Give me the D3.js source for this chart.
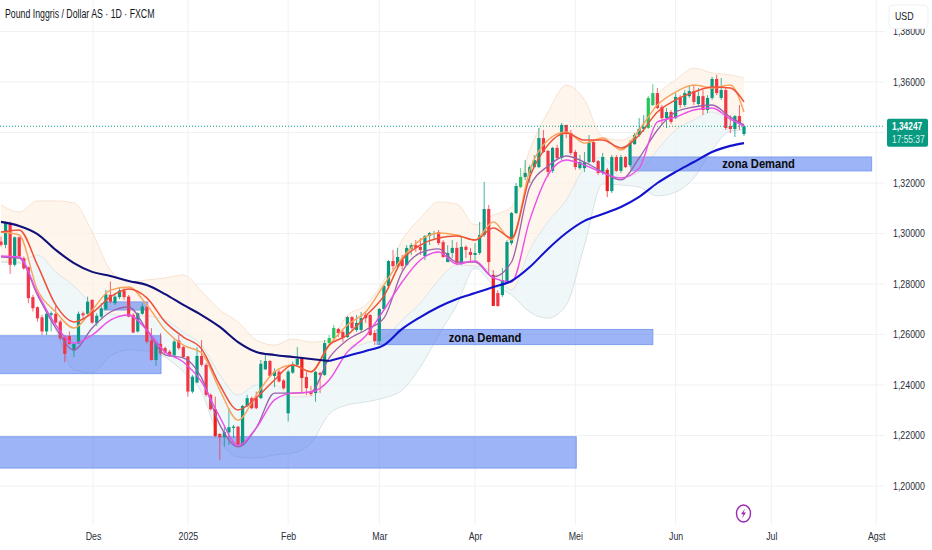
<!DOCTYPE html>
<html><head><meta charset="utf-8">
<script src="https://cdn.jsdelivr.net/npm/d3@7/dist/d3.min.js"></script>
<style>html,body{margin:0;padding:0;background:#fff}svg{display:block}text{font-family:"Liberation Sans",Roboto,sans-serif;fill:#131722}</style>
</head><body><svg id="c" width="932" height="550"></svg>
<script>
const title = "Pound Inggris / Dollar AS · 1D · FXCM";
const opens = [1.2968,1.2955,1.3041,1.2876,1.2985,1.2902,1.2866,1.2748,1.2708,1.2668,
1.2612,1.2678,1.2682,1.2651,1.2592,1.2594,1.2536,1.2565,1.2684,1.2682,
1.2737,1.2645,1.2671,1.2700,1.2757,1.2724,1.2748,1.2774,1.2750,1.2678,
1.2612,1.2682,1.2708,1.2576,1.2499,1.2563,1.2546,1.2532,1.2517,1.2576,
1.2550,1.2513,1.2374,1.2410,1.2515,1.2480,1.2361,1.2304,1.2206,1.2193,
1.2212,1.2230,1.2235,1.2163,1.2317,1.2348,1.2348,1.2348,1.2462,1.2495,
1.2436,1.2453,1.2418,1.2288,1.2449,1.2480,1.2507,1.2432,1.2372,1.2368,
1.2448,1.2440,1.2566,1.2586,1.2622,1.2610,1.2590,1.2669,1.2618,1.2618,
1.2677,1.2677,1.2606,1.2574,1.2701,1.2792,1.2891,1.2871,1.2895,1.2875,
1.2939,1.2954,1.2947,1.2911,1.2990,1.2998,1.3006,1.2966,1.2887,1.2923,
1.2943,1.2883,1.2947,1.2927,1.2915,1.2923,1.2994,1.3097,1.2836,1.2764,
1.2756,1.2808,1.2962,1.3081,1.3184,1.3224,1.3240,1.3263,1.3263,1.3378,
1.3327,1.3248,1.3339,1.3299,1.3430,1.3398,1.3323,1.3259,1.3259,1.3283,
1.3362,1.3287,1.3240,1.3252,1.3168,1.3303,1.3248,1.3303,1.3271,1.3354,
1.3390,1.3414,1.3418,1.3509,1.3556,1.3501,1.3457,1.3481,1.3457,1.3541,
1.3509,1.3544,1.3564,1.3513,1.3544,1.3489,1.3537,1.3612,1.3537,1.3568,
1.3426,1.3414,1.3465,1.3394];
const closes = [1.2955,1.3041,1.2876,1.2985,1.2909,1.2862,1.2744,1.2704,1.2664,1.2612,
1.2682,1.2684,1.2647,1.2585,1.2523,1.2563,1.2563,1.2682,1.2676,1.2730,
1.2647,1.2674,1.2704,1.2759,1.2730,1.2750,1.2774,1.2748,1.2671,1.2608,
1.2684,1.2711,1.2572,1.2499,1.2565,1.2526,1.2528,1.2517,1.2572,1.2546,
1.2510,1.2374,1.2433,1.2515,1.2480,1.2361,1.2304,1.2198,1.2193,1.2213,
1.2233,1.2235,1.2163,1.2317,1.2348,1.2308,1.2308,1.2484,1.2495,1.2436,
1.2453,1.2414,1.2387,1.2453,1.2480,1.2503,1.2428,1.2388,1.2364,1.2452,
1.2440,1.2566,1.2586,1.2626,1.2606,1.2586,1.2669,1.2626,1.2646,1.2665,
1.2665,1.2598,1.2574,1.2701,1.2792,1.2891,1.2871,1.2907,1.2871,1.2943,
1.2954,1.2943,1.2935,1.2990,1.3002,1.3002,1.2962,1.2907,1.2923,1.2943,
1.2883,1.2947,1.2935,1.2915,1.2923,1.2994,1.3097,1.2887,1.2713,1.2713,
1.2816,1.2966,1.3081,1.3188,1.3224,1.3240,1.3263,1.3291,1.3378,1.3323,
1.3244,1.3339,1.3299,1.3430,1.3394,1.3319,1.3263,1.3283,1.3283,1.3362,
1.3283,1.3240,1.3303,1.3168,1.3303,1.3248,1.3303,1.3263,1.3358,1.3390,
1.3414,1.3422,1.3537,1.3556,1.3497,1.3457,1.3481,1.3442,1.3541,1.3509,
1.3556,1.3564,1.3521,1.3544,1.3489,1.3537,1.3612,1.3556,1.3568,1.3418,
1.3414,1.3465,1.3438,1.34247];
const highs = [1.2988,1.3047,1.3047,1.2988,1.2988,1.2909,1.2869,1.2757,1.2711,1.2678,
1.2684,1.2691,1.2713,1.2658,1.2598,1.2612,1.2565,1.2691,1.2691,1.2750,
1.2740,1.2684,1.2724,1.2777,1.2810,1.2763,1.2787,1.2783,1.2757,1.2684,
1.2687,1.2724,1.2713,1.2625,1.2572,1.2605,1.2552,1.2539,1.2579,1.2598,
1.2555,1.2515,1.2440,1.2550,1.2579,1.2486,1.2367,1.2354,1.2209,1.2235,
1.2308,1.2242,1.2238,1.2321,1.2361,1.2354,1.2374,1.2499,1.2519,1.2499,
1.2466,1.2460,1.2423,1.2460,1.2493,1.2550,1.2511,1.2452,1.2396,1.2456,
1.2452,1.2578,1.2598,1.2638,1.2626,1.2618,1.2673,1.2673,1.2677,1.2689,
1.2689,1.2681,1.2618,1.2705,1.2796,1.2895,1.2935,1.2943,1.2915,1.2954,
1.2962,1.2974,1.2982,1.2994,1.3006,1.3010,1.3014,1.2974,1.2954,1.2974,
1.2966,1.2986,1.2954,1.2943,1.2962,1.3046,1.3204,1.3113,1.2855,1.2776,
1.2863,1.2974,1.3085,1.3200,1.3259,1.3291,1.3271,1.3311,1.3418,1.3410,
1.3331,1.3343,1.3351,1.3438,1.3430,1.3410,1.3331,1.3311,1.3323,1.3390,
1.3370,1.3291,1.3319,1.3259,1.3311,1.3311,1.3311,1.3307,1.3370,1.3398,
1.3457,1.3469,1.3545,1.3592,1.3576,1.3509,1.3497,1.3489,1.3556,1.3548,
1.3568,1.3588,1.3588,1.3576,1.3568,1.3548,1.3620,1.3628,1.3616,1.3576,
1.3469,1.3469,1.3509,1.3430];
const lows = [1.2948,1.2942,1.2840,1.2869,1.2902,1.2856,1.2724,1.2691,1.2651,1.2598,
1.2598,1.2612,1.2642,1.2579,1.2490,1.2559,1.2510,1.2563,1.2655,1.2678,
1.2642,1.2634,1.2664,1.2695,1.2724,1.2717,1.2740,1.2737,1.2668,1.2605,
1.2608,1.2678,1.2565,1.2497,1.2476,1.2519,1.2523,1.2513,1.2513,1.2539,
1.2506,1.2354,1.2367,1.2407,1.2473,1.2354,1.2299,1.2193,1.2103,1.2156,
1.2163,1.2189,1.2159,1.2159,1.2312,1.2304,1.2304,1.2344,1.2460,1.2431,
1.2391,1.2410,1.2381,1.2255,1.2444,1.2473,1.2368,1.2360,1.2357,1.2333,
1.2368,1.2436,1.2558,1.2578,1.2590,1.2570,1.2586,1.2618,1.2610,1.2610,
1.2646,1.2594,1.2558,1.2558,1.2697,1.2788,1.2855,1.2863,1.2855,1.2871,
1.2915,1.2927,1.2915,1.2895,1.2954,1.2974,1.2954,1.2903,1.2887,1.2903,
1.2875,1.2875,1.2903,1.2887,1.2887,1.2915,1.2986,1.2836,1.2713,1.2709,
1.2749,1.2804,1.2954,1.3077,1.3180,1.3212,1.3200,1.3259,1.3259,1.3319,
1.3224,1.3240,1.3291,1.3291,1.3378,1.3311,1.3252,1.3252,1.3244,1.3279,
1.3279,1.3232,1.3232,1.3144,1.3160,1.3244,1.3240,1.3259,1.3263,1.3351,
1.3382,1.3402,1.3414,1.3505,1.3493,1.3430,1.3418,1.3434,1.3453,1.3497,
1.3501,1.3537,1.3509,1.3505,1.3469,1.3477,1.3529,1.3548,1.3529,1.3410,
1.3398,1.3382,1.3410,1.3386];
const brightGreen = [72,73,114,142,143];
const brightRed = [108,133,47,66];
const sampleIdx = [0,4,8,12,16,20,24,28,32,36,40,44,48,52,56,60,64,68,72,76,80,84,88,92,96,100,104,108,112,116,120,124,128,132,136,140,144,148,152,156,160,163];
const redLine = [1.3006,1.3014,1.2875,1.2717,1.2650,1.2685,1.2749,1.2780,1.2745,1.2650,1.2590,1.2543,1.2400,1.2301,1.2349,1.2420,1.2479,1.2452,1.2558,1.2598,1.2673,1.2753,1.2895,1.2954,1.2982,1.2990,1.2974,1.3022,1.2982,1.3224,1.3351,1.3398,1.3370,1.3370,1.3339,1.3390,1.3481,1.3529,1.3560,1.3580,1.3576,1.3521];
const orangeLine = [1.3006,1.2994,1.2776,1.2689,1.2626,1.2697,1.2776,1.2788,1.2717,1.2618,1.2558,1.2527,1.2380,1.2261,1.2360,1.2452,1.2479,1.2452,1.2558,1.2638,1.2689,1.2796,1.2903,1.2974,1.3002,1.2994,1.2974,1.3046,1.2974,1.3251,1.3370,1.3402,1.3358,1.3378,1.3331,1.3410,1.3509,1.3560,1.3588,1.3576,1.3588,1.3481];
const purpleLine = [1.2907,1.2903,1.2756,1.2626,1.2539,1.2626,1.2689,1.2709,1.2618,1.2519,1.2507,1.2428,1.2242,1.2155,1.2230,1.2368,1.2368,1.2372,1.2507,1.2578,1.2618,1.2665,1.2848,1.2923,1.2939,1.2887,1.2887,1.2828,1.2887,1.3184,1.3267,1.3307,1.3283,1.3244,1.3212,1.3299,1.3410,1.3481,1.3501,1.3509,1.3461,1.3430];
const magentaLine = [1.2911,1.2907,1.2764,1.2638,1.2566,1.2598,1.2657,1.2677,1.2618,1.2531,1.2491,1.2412,1.2273,1.2162,1.2230,1.2341,1.2368,1.2372,1.2420,1.2531,1.2594,1.2697,1.2808,1.2895,1.2927,1.2879,1.2891,1.2824,1.2808,1.3054,1.3232,1.3291,1.3271,1.3240,1.3220,1.3259,1.3442,1.3461,1.3489,1.3497,1.3453,1.3426];
const maLine = [1.3046,1.3030,1.2998,1.2935,1.2883,1.2848,1.2832,1.2812,1.2796,1.2760,1.2717,1.2677,1.2630,1.2570,1.2531,1.2519,1.2511,1.2503,1.2495,1.2515,1.2535,1.2558,1.2622,1.2669,1.2709,1.2741,1.2764,1.2788,1.2812,1.2867,1.2939,1.3002,1.3050,1.3077,1.3105,1.3145,1.3200,1.3244,1.3283,1.3323,1.3347,1.3358];
const upperBand = [1.3113,1.3085,1.3129,1.3129,1.3121,1.3006,1.2855,1.2808,1.2816,1.2824,1.2836,1.2772,1.2697,1.2650,1.2578,1.2558,1.2582,1.2570,1.2578,1.2677,1.2717,1.2816,1.2974,1.3061,1.3125,1.3117,1.3034,1.3073,1.3105,1.3331,1.3481,1.3588,1.3529,1.3382,1.3370,1.3418,1.3549,1.3608,1.3655,1.3636,1.3628,1.3616];
const midBand = [1.2887,1.2887,1.2915,1.2848,1.2792,1.2721,1.2681,1.2673,1.2673,1.2658,1.2610,1.2558,1.2440,1.2360,1.2400,1.2400,1.2352,1.2356,1.2420,1.2531,1.2566,1.2586,1.2657,1.2725,1.2816,1.2875,1.2871,1.2848,1.2776,1.2935,1.3046,1.3133,1.3259,1.3303,1.3220,1.3244,1.3331,1.3410,1.3450,1.3481,1.3450,1.3422];
const lowerBand = [1.2887,1.2883,1.2776,1.2618,1.2460,1.2448,1.2515,1.2539,1.2535,1.2511,1.2452,1.2372,1.2182,1.2115,1.2111,1.2123,1.2131,1.2170,1.2285,1.2321,1.2333,1.2349,1.2380,1.2471,1.2598,1.2717,1.2863,1.2796,1.2757,1.2689,1.2665,1.2717,1.2954,1.3196,1.3192,1.3184,1.3149,1.3164,1.3220,1.3331,1.3406,1.3410];
const boxStart = [-2,-2,82.5,138.2,22.6];
const boxEnd = [35.1,126.2,143,191,32.2];
const boxTop = [1.2595,1.2195,1.2620,1.3303,1.2729];
const boxBottom = [1.2445,1.2071,1.2560,1.3248,1.2697];
const noteLabel = "zona Demand";
const noteIdx = [106.2,166.2];
const notePrice = [1.2590,1.3276];
const priceTicks = [1.38,1.36,1.32,1.30,1.28,1.26,1.24,1.22,1.20];
const gridPrices = [1.38,1.36,1.34,1.32,1.30,1.28,1.26,1.24,1.22,1.20];
const timeIdx = [20.2,41,63,83,104,126,148,169,192];
const timeLabels = ["Des","2025","Feb","Mar","Apr","Mei","Jun","Jul","Agst"];
const lastPrice = 1.34247;
const lastPriceText = "1,34247";
const countdown = "17:55:37";
const currency = "USD";

const svg = d3.select("#c");
const plotR=885, plotB=525;
const x = d3.scaleLinear().domain([0,163]).range([1,744]);
const y = d3.scaleLinear().domain([1.38,1.18]).range([31.5,536.5]);
const fmt = d => d3.format(".5f")(d).replace(".",",");
const squeeze = (sel,f) => sel.each(function(){
  const n=this.getComputedTextLength();
  d3.select(this).attr("textLength",n*f).attr("lengthAdjust","spacingAndGlyphs");
});

const plot = svg.append("g");
const defs = svg.append("defs");
defs.append("clipPath").attr("id","pc").append("rect").attr("x",0).attr("y",0).attr("width",plotR).attr("height",plotB);
plot.attr("clip-path","url(#pc)");

// grid
plot.append("g").selectAll("line").data(gridPrices).join("line")
 .attr("x1",0).attr("x2",plotR).attr("y1",d=>y(d)).attr("y2",d=>y(d)).attr("stroke","#f0f1f4");
plot.append("g").selectAll("line").data(timeIdx).join("line")
 .attr("y1",0).attr("y2",plotB).attr("x1",d=>x(d)).attr("x2",d=>x(d)).attr("stroke","#f0f1f4");

// band fills
const rows = sampleIdx.map((i,k)=>({i,u:upperBand[k],m:midBand[k],l:lowerBand[k]}));
const curve = d3.curveMonotoneX;
plot.append("path").datum(rows).attr("fill","#fdf1e6").attr("fill-opacity",.7)
 .attr("d",d3.area().curve(curve).x(d=>x(d.i)).y0(d=>y(d.m)).y1(d=>y(d.u)));
plot.append("path").datum(rows).attr("fill","#e9f3f6").attr("fill-opacity",.7)
 .attr("d",d3.area().curve(curve).x(d=>x(d.i)).y0(d=>y(d.l)).y1(d=>y(d.m)));
const bandLine = key => d3.line().curve(curve).x(d=>x(d.i)).y(d=>y(d[key]));
plot.append("path").datum(rows).attr("fill","none").attr("stroke","#f6dcc6").attr("stroke-width",.8).attr("d",bandLine("u"));
plot.append("path").datum(rows).attr("fill","none").attr("stroke","#d6dfdf").attr("stroke-width",.8).attr("d",bandLine("m"));
plot.append("path").datum(rows).attr("fill","none").attr("stroke","#cfdcdc").attr("stroke-width",.8).attr("d",bandLine("l"));

// zones
plot.append("g").selectAll("rect").data(boxStart).join("rect")
 .attr("x",(d,k)=>x(d)).attr("width",(d,k)=>x(boxEnd[k])-x(d))
 .attr("y",(d,k)=>y(boxTop[k])).attr("height",(d,k)=>y(boxBottom[k])-y(boxTop[k]))
 .attr("fill","#5b82f0").attr("fill-opacity",.6).attr("stroke","#7f9eee").attr("stroke-width",1);

// candles
const cand = opens.map((o,i)=>({i,o,c:closes[i],h:highs[i],l:lows[i]}));
const col = d => d.c>=d.o ? (brightGreen.includes(d.i)?"#22c55e":"#089981") : (brightRed.includes(d.i)?"#f01f1f":"#f23645");
const g = plot.append("g");
g.selectAll(".w").data(cand).join("line").attr("class","w")
 .attr("x1",d=>x(d.i)).attr("x2",d=>x(d.i)).attr("y1",d=>y(d.h)).attr("y2",d=>y(d.l))
 .attr("stroke",col).attr("stroke-opacity",.75).attr("stroke-width",1);
g.selectAll(".b").data(cand).join("rect").attr("class","b")
 .attr("x",d=>x(d.i)-1.6).attr("width",3.2)
 .attr("y",d=>y(Math.max(d.o,d.c))).attr("height",d=>Math.max(1,Math.abs(y(d.o)-y(d.c))))
 .attr("fill",col);

// indicator lines
const line = d3.line().curve(curve).x(d=>x(d.i)).y(d=>y(d.v));
const ser = arr => sampleIdx.map((i,k)=>({i,v:arr[k]}));
[[purpleLine,"#9a62ab",1.3],[magentaLine,"#ea4fea",1.4],[orangeLine,"#f7a35c",1.4],[redLine,"#ef5138",1.5]].forEach(([a,c,w])=>{
 plot.append("path").datum(ser(a)).attr("fill","none").attr("stroke",c).attr("stroke-width",w).attr("d",line);
});
const ma = ser(maLine);
plot.append("path").datum(ma.slice(0,19)).attr("fill","none").attr("stroke","#10107a").attr("stroke-width",2.1).attr("d",line);
plot.append("path").datum(ma.slice(18)).attr("fill","none").attr("stroke","#1212cf").attr("stroke-width",2.1).attr("d",line);

// last price line
plot.append("line").attr("x1",0).attr("x2",plotR+2).attr("y1",y(lastPrice)).attr("y2",y(lastPrice))
 .attr("stroke","#089981").attr("stroke-width",1).attr("stroke-dasharray","1 2");

// notes
svg.append("g").selectAll("text").data(noteIdx).join("text")
 .attr("x",d=>x(d)).attr("y",(d,k)=>y(notePrice[k])).attr("dy","0.36em").attr("text-anchor","middle")
 .attr("font-size",13).attr("font-weight",700).style("fill","#0b0b0b").text(noteLabel).call(squeeze,0.86);

// axes
const yAxis = d3.axisRight(y).tickValues(priceTicks).tickFormat(fmt).tickSize(0).tickPadding(0);
const ya = svg.append("g").attr("transform","translate(893,0)").call(yAxis);
ya.select(".domain").remove();
ya.selectAll("text").attr("font-size",11).style("font-family",'"Liberation Sans",Roboto,sans-serif').style("fill","#2a2e39").attr("dy","0.28em").call(squeeze,0.8);
const xAxis = d3.axisBottom(x).tickValues(timeIdx).tickFormat((d,k)=>timeLabels[k]).tickSize(0).tickPadding(0);
const xa = svg.append("g").attr("transform","translate(0,532)").call(xAxis);
xa.select(".domain").remove();
xa.selectAll("text").attr("font-size",11).style("font-family",'"Liberation Sans",Roboto,sans-serif').style("fill","#2a2e39").call(squeeze,0.8);

// title
svg.append("text").attr("x",5).attr("y",18).attr("font-size",12).style("fill","#131722").text(title).call(squeeze,0.73);

// currency box
svg.append("rect").attr("x",889).attr("y",5).attr("width",39).attr("height",23.5).attr("rx",4)
 .attr("fill","#fff").attr("stroke","#eef0f3");
svg.append("text").attr("x",895).attr("y",20).attr("font-size",11).text(currency).call(squeeze,0.8);

// price tag
svg.append("rect").attr("x",887).attr("y",y(lastPrice)-7.5).attr("width",41).attr("height",28).attr("rx",2).attr("fill","#089981");
svg.append("text").attr("x",892).attr("y",y(lastPrice)+3.5).attr("font-size",11).attr("font-weight",700).style("fill","#fff").text(lastPriceText).call(squeeze,0.76);
svg.append("text").attr("x",892).attr("y",y(lastPrice)+16.5).attr("font-size",10.5).style("fill","#d9f2ec").text(countdown).call(squeeze,0.8);

// lightning icon
const ic = svg.append("g").attr("transform","translate(743.5,513.5)");
ic.append("ellipse").attr("rx",7).attr("ry",8.5).attr("fill","#fff").attr("stroke","#9c27b0").attr("stroke-width",1.4);
ic.append("path").attr("d","M1.5,-5 L-2.5,0.8 L0,0.8 L-1.5,5 L2.5,-1 L0,-1 Z").attr("fill","#9c27b0");
</script></body></html>
